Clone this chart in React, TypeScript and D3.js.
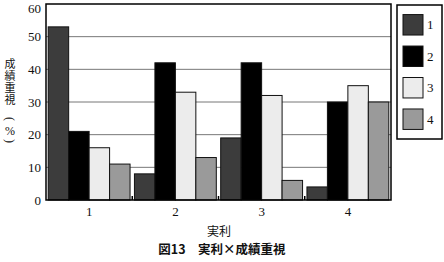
import React from "react";
import * as d3 from "d3";

const categories = ["1", "2", "3", "4"];
const seriesNames = ["1", "2", "3", "4"];
const series1 = [53, 8, 19, 4];
const series2 = [21, 42, 42, 30];
const series3 = [16, 33, 32, 35];
const series4 = [11, 13, 6, 30];
const yTicks = [0, 10, 20, 30, 40, 50, 60];
const seriesColors = ["#3c3c3c", "#000000", "#ececec", "#9a9a9a"];
const yTitle = "成績重視";

const W = 444, H = 262;
const margin = { left: 46, right: 53, top: 4, bottom: 62 };

export default function App() {
  const allSeries = [series1, series2, series3, series4];
  const x0 = d3.scaleBand().domain(categories).range([margin.left, W - margin.right]).paddingInner(0).paddingOuter(0);
  const bw = x0.bandwidth();
  const x1 = d3.scaleBand().domain(seriesNames).range([0, bw]).paddingOuter(0.15 / 0.7 * 0.5).paddingInner(0);
  const y = d3.scaleLinear().domain([0, 60]).range([H - margin.bottom, margin.top]);
  const serif = "'Liberation Serif', 'DejaVu Serif', serif";
  const cjk = "'Noto Sans CJK JP', sans-serif";
  const plotL = margin.left, plotR = W - margin.right, plotT = margin.top, plotB = H - margin.bottom;

  const lgX = 397, lgY = 5, lgW = 45, lgH = 134;
  const legendY = d3.scaleBand().domain(seriesNames).range([lgY + 8, lgY + lgH - 8]).paddingInner(0.35).paddingOuter(0.05);

  return (
    <svg width={W} height={H} style={{ position: "absolute", left: 0, top: 0, display: "block", background: "#fff" }}>
      {yTicks.filter(t => t > 0 && t < 60).map(t => (
        <line key={t} x1={plotL} x2={plotR} y1={y(t)} y2={y(t)} stroke="#777" strokeWidth={1} />
      ))}
      {categories.map((c, ci) => (
        <g key={c} transform={`translate(${x0(c)},0)`}>
          {allSeries.map((s, si) => (
            <rect key={si} x={x1(seriesNames[si])!} y={y(s[ci])} width={x1.bandwidth()} height={y(0) - y(s[ci])}
              fill={seriesColors[si]} stroke="#111" strokeWidth={1} />
          ))}
        </g>
      ))}
      <rect x={plotL} y={plotT} width={plotR - plotL} height={plotB - plotT} fill="none" stroke="#000" strokeWidth={1.5} />
      {categories.slice(1).map(c => (
        <line key={c} x1={x0(c)} x2={x0(c)} y1={plotB} y2={plotB - 4} stroke="#000" strokeWidth={1.5} />
      ))}
      {yTicks.map(t => (
        <text key={t} x={41} y={t === 60 ? y(t) + 4 : y(t)} dy="0.35em" textAnchor="end" fontFamily={serif} fontSize={13} fill="#111">{t}</text>
      ))}
      {categories.map(c => (
        <text key={c} x={x0(c)! + bw / 2} y={216} textAnchor="middle" fontFamily={serif} fontSize={13} fill="#111">{c}</text>
      ))}
      <text x={10} y={58} fontFamily={cjk} fontSize={11} letterSpacing={1} fill="#111"
        style={{ writingMode: "vertical-rl" as any }}>{yTitle}</text>
      <text transform="translate(10,119) rotate(90)" textAnchor="middle" dy="0.32em" fontFamily={serif} fontSize={12} fill="#111">(</text>
      <text x={10} y={131} dy="0.35em" textAnchor="middle" fontFamily={serif} fontSize={12} fill="#111">%</text>
      <text transform="translate(10,141) rotate(90)" textAnchor="middle" dy="0.32em" fontFamily={serif} fontSize={12} fill="#111">)</text>
      <text x={219} y={236} textAnchor="middle" fontFamily={cjk} fontSize={12} fill="#111">実利</text>
      <text x={222} y={254} textAnchor="middle" fontFamily={cjk} fontSize={12.5} fontWeight={600} fill="#111">図13　実利×成績重視</text>
      <rect x={lgX} y={lgY} width={lgW} height={lgH} fill="#fff" stroke="#000" strokeWidth={1.5} />
      {seriesNames.map((n, i) => (
        <g key={n}>
          <rect x={403} y={legendY(n)!} width={20} height={legendY.bandwidth()} fill={seriesColors[i]} stroke="#111" strokeWidth={1} />
          <text x={427} y={legendY(n)! + legendY.bandwidth() / 2} dy="0.35em" fontFamily={serif} fontSize={13} fill="#111">{n}</text>
        </g>
      ))}
    </svg>
  );
}
